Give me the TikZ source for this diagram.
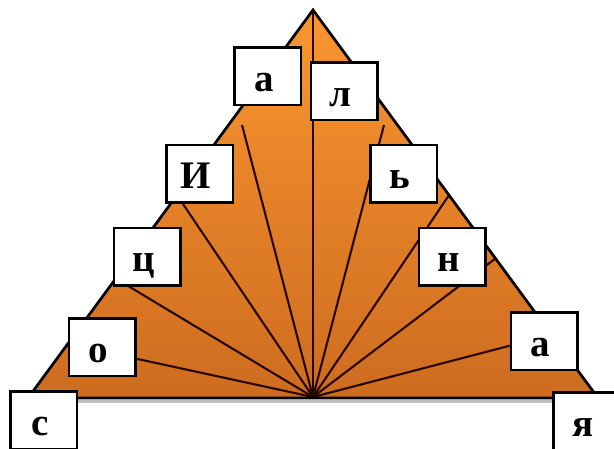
\documentclass[tikz,border=0pt]{standalone}
\usepackage{fontspec}
\setmainfont{Liberation Serif}
\definecolor{orTop}{RGB}{250,150,48}
\definecolor{orBot}{RGB}{205,108,32}
\definecolor{fanline}{RGB}{40,6,0}
\begin{document}
\begin{tikzpicture}[x=1pt,y=-1pt,
  letterbox/.style={draw=black, line width=2.5pt, fill=white,
    minimum width=66.5pt, minimum height=57.5pt, inner sep=0pt,
    text height=30pt, text depth=0pt,
    font=\fontsize{39}{39}\selectfont\bfseries,
    execute at end node=\kern7pt},
  fanstroke/.style={draw=fanline, line width=2.1pt},
  edgestroke/.style={draw=black, line width=2.7pt, line join=miter}]
\useasboundingbox (0,0) rectangle (614,448);
\clip (0,0) rectangle (614,448);
% triangle corners and fan centre
\coordinate (apex) at (313,10);
\coordinate (cl) at (28,398);
\coordinate (cr) at (598,398);
\coordinate (c) at (313,397);
\coordinate (shl) at (28,401.5);
\coordinate (shr) at (598,401.5);
% fan end points
\coordinate (l1) at (242,125);
\coordinate (r1) at (384,125);
\coordinate (l2) at (177.6,196);
\coordinate (r2) at (448.4,196);
\coordinate (l3) at (116.5,279);
\coordinate (r3) at (494.8,259);
\coordinate (l4) at (68.5,344);
\coordinate (r4) at (551,335);
% base shadow
\draw[gray!50, line width=2.4pt] (shl) -- (shr);
% triangle
\fill[top color=orTop, bottom color=orBot] (apex) -- (cl) -- (cr) -- cycle;
% fan
\foreach \e in {apex,l1,r1,l2,r2,l3,r3,l4,r4}
  \draw[fanstroke] (c) -- (\e);
\draw[edgestroke] (apex) -- (cl) -- (cr) -- cycle;
% letter boxes
\node[letterbox] (ba1) at (267.5,76) {а};
\node[letterbox] (bl)  at (344,91) {л};
\node[letterbox] (bi)  at (199.5,173.5) {И};
\node[letterbox] (bsoft) at (403.5,173.5) {ь};
\node[letterbox] (bts) at (147,256.5) {ц};
\node[letterbox] (bn)  at (452,256.5) {н};
\node[letterbox] (bo)  at (102,347) {о};
\node[letterbox] (ba2) at (544,341) {а};
\node[letterbox] (bs)  at (43.5,420) {с};
\node[letterbox] (bya) at (586.5,421) {я};
\end{tikzpicture}
\end{document}
